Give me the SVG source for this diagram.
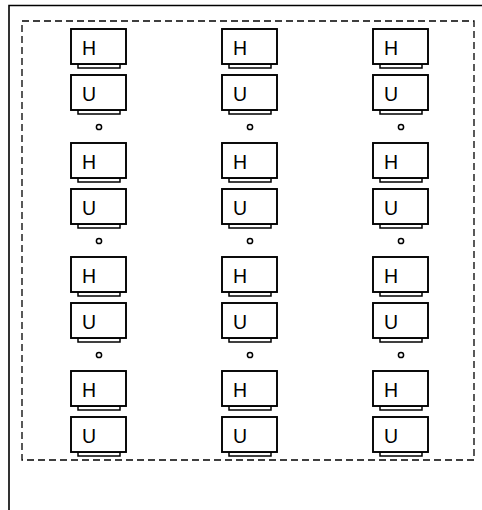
<svg xmlns="http://www.w3.org/2000/svg" width="482" height="510" viewBox="0 0 482 510">
<style>
.box{fill:#fff;stroke:#000;stroke-width:1.9}
.base{fill:#fff;stroke:#000;stroke-width:1.5}
.lbl{font-family:"Liberation Sans",Arial,sans-serif;font-size:19.5px;fill:#000}
.dot{fill:none;stroke:#000;stroke-width:1.5}
.frame{fill:none;stroke:#000;stroke-width:1.6}
.dash{fill:none;stroke:#000;stroke-width:1.3;stroke-dasharray:7 4}
</style>
<defs>
<g id="unitH">
<rect class="base" x="7" y="35" width="42" height="4"/>
<rect class="box" x="0" y="0" width="55" height="35"/>
<text class="lbl" x="11" y="25.5">H</text>
</g>
<g id="unitU">
<rect class="base" x="7" y="35" width="42" height="4"/>
<rect class="box" x="0" y="0" width="55" height="35"/>
<text class="lbl" x="11" y="25.5">U</text>
</g>
</defs>
<path class="frame" d="M9,512 V5.5 H484"/>
<rect class="dash" x="22" y="21" width="452" height="439"/>
<g id="c1">
<g id="c1r1h" transform="translate(71,29)"><use href="#unitH"/></g>
<g id="c1r1u" transform="translate(71,75)"><use href="#unitU"/></g>
<g id="c1r2h" transform="translate(71,143)"><use href="#unitH"/></g>
<g id="c1r2u" transform="translate(71,189)"><use href="#unitU"/></g>
<g id="c1r3h" transform="translate(71,257)"><use href="#unitH"/></g>
<g id="c1r3u" transform="translate(71,303)"><use href="#unitU"/></g>
<g id="c1r4h" transform="translate(71,371)"><use href="#unitH"/></g>
<g id="c1r4u" transform="translate(71,417)"><use href="#unitU"/></g>
</g>
<g id="c2">
<g id="c2r1h" transform="translate(222,29)"><use href="#unitH"/></g>
<g id="c2r1u" transform="translate(222,75)"><use href="#unitU"/></g>
<g id="c2r2h" transform="translate(222,143)"><use href="#unitH"/></g>
<g id="c2r2u" transform="translate(222,189)"><use href="#unitU"/></g>
<g id="c2r3h" transform="translate(222,257)"><use href="#unitH"/></g>
<g id="c2r3u" transform="translate(222,303)"><use href="#unitU"/></g>
<g id="c2r4h" transform="translate(222,371)"><use href="#unitH"/></g>
<g id="c2r4u" transform="translate(222,417)"><use href="#unitU"/></g>
</g>
<g id="c3">
<g id="c3r1h" transform="translate(373,29)"><use href="#unitH"/></g>
<g id="c3r1u" transform="translate(373,75)"><use href="#unitU"/></g>
<g id="c3r2h" transform="translate(373,143)"><use href="#unitH"/></g>
<g id="c3r2u" transform="translate(373,189)"><use href="#unitU"/></g>
<g id="c3r3h" transform="translate(373,257)"><use href="#unitH"/></g>
<g id="c3r3u" transform="translate(373,303)"><use href="#unitU"/></g>
<g id="c3r4h" transform="translate(373,371)"><use href="#unitH"/></g>
<g id="c3r4u" transform="translate(373,417)"><use href="#unitU"/></g>
</g>
<g id="dots">
<circle class="dot" cx="99" cy="127" r="2.6"/>
<circle class="dot" cx="99" cy="241" r="2.6"/>
<circle class="dot" cx="99" cy="355" r="2.6"/>
<circle class="dot" cx="250" cy="127" r="2.6"/>
<circle class="dot" cx="250" cy="241" r="2.6"/>
<circle class="dot" cx="250" cy="355" r="2.6"/>
<circle class="dot" cx="401" cy="127" r="2.6"/>
<circle class="dot" cx="401" cy="241" r="2.6"/>
<circle class="dot" cx="401" cy="355" r="2.6"/>
</g>
</svg>
